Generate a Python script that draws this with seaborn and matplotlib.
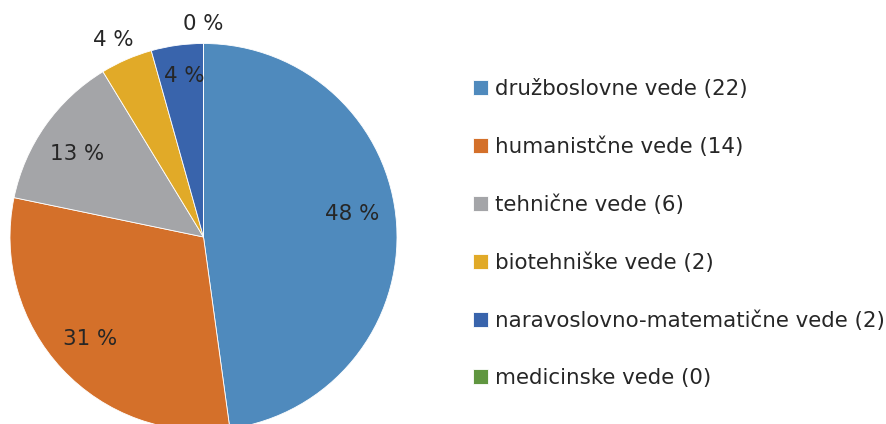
import numpy as np
import matplotlib
matplotlib.use("Agg")
import matplotlib.pyplot as plt
import seaborn as sns

# podatki
categories = ["družboslovne vede", "humanistčne vede", "tehnične vede",
              "biotehniške vede", "naravoslovno-matematične vede", "medicinske vede"]
counts = [22, 14, 6, 2, 2, 0]
pct_labels = ["48 %", "31 %", "13 %", "4 %", "4 %", "0 %"]

colors = ["#4F8ABD", "#D4702A", "#A4A5A8", "#E1AA28", "#3964AC", "#609640"]
label_r = [0.78, 0.79, 0.78, 1.12, 0.84, 1.10]
label_shift = [5, -1, 2, 1, -1, 0]

sns.set_style("white")
plt.rcParams['font.family'] = ['DejaVu Sans']

W, H = 887, 424
fig = plt.figure(figsize=(W / 100, H / 100), dpi=100)
cx, cy, R = 203.5, 237, 193.5
ax = fig.add_axes([(cx - R) / W, (H - cy - R) / H, 2 * R / W, 2 * R / H])

wedges, _ = ax.pie(counts, colors=colors, startangle=90, counterclock=False,
                   wedgeprops=dict(edgecolor="white", linewidth=0.6))
ax.set_xlim(-1, 1)
ax.set_ylim(-1, 1)
ax.set_aspect("auto")
ax.axis("off")

for w, txt, r, sh in zip(wedges, pct_labels, label_r, label_shift):
    ang = np.deg2rad((w.theta1 + w.theta2) / 2 + sh)
    ax.text(r * np.cos(ang), r * np.sin(ang), txt, ha="center", va="center",
            fontsize=15.4, color="#262626", clip_on=False)

leg_labels = [f"{c} ({n})" for c, n in zip(categories, counts)]
fig.legend(wedges, leg_labels, loc="upper left", bbox_to_anchor=(473 / W, 1 - 79 / H),
           frameon=False, fontsize=15.4, labelcolor="#262626",
           handlelength=0.7, handleheight=0.7, handletextpad=0.33,
           labelspacing=1.75, borderaxespad=0, borderpad=0)

fig.savefig("out.png", dpi=100)
